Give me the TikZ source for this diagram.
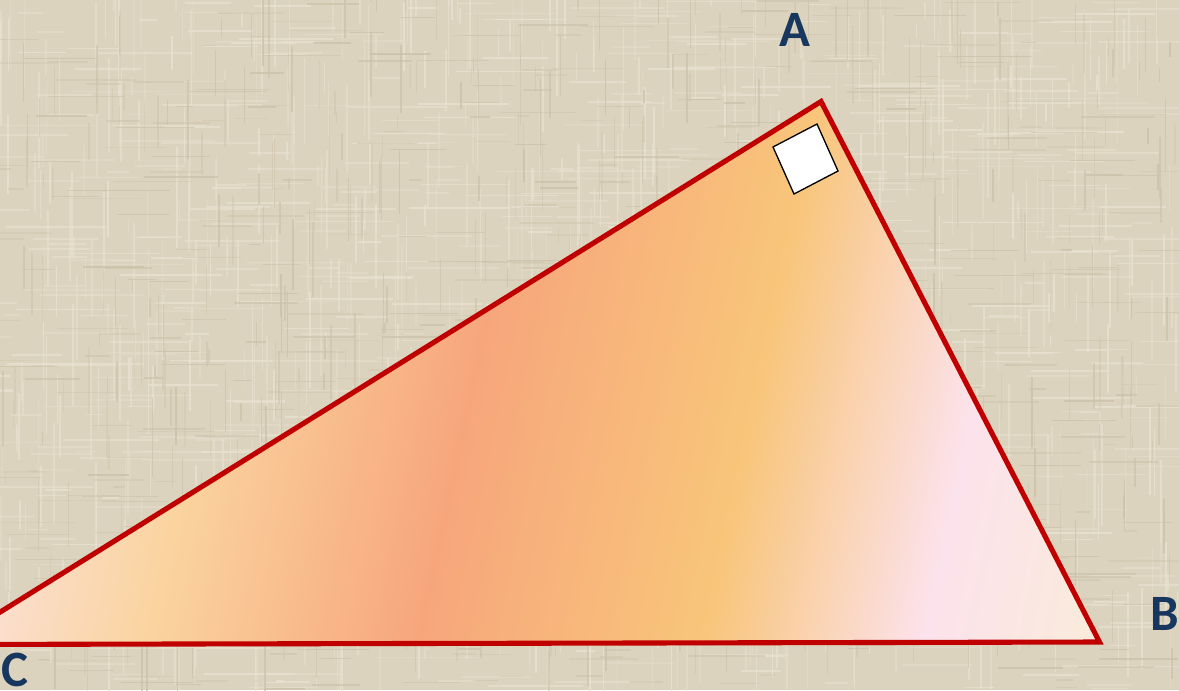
\documentclass[tikz,border=0pt]{standalone}
\usepackage{fontspec}
\newfontfamily\labelfont{Carlito}
\definecolor{bgbase}{HTML}{DCD3BE}
\definecolor{bglight}{HTML}{E9E2D1}
\definecolor{bgdark}{HTML}{CCC2AA}
\definecolor{edgered}{HTML}{C00000}
\definecolor{labelblue}{HTML}{17375E}
\definecolor{gpink}{HTML}{FCE3DF}
\definecolor{glorange}{HTML}{FAD39E}
\definecolor{gsalmon}{HTML}{F7A67C}
\definecolor{gyellow}{HTML}{F8C57A}
\definecolor{glav}{HTML}{FCE2EC}
\definecolor{gcream}{HTML}{FAEADC}
\pgfdeclarehorizontalshading{trishade}{100bp}{color(0bp)=(gpink); color(30bp)=(gpink); color(36.6bp)=(glorange); color(44.75bp)=(gsalmon); color(53.5bp)=(gyellow); color(60.2bp)=(glav); color(65bp)=(gcream); color(100bp)=(gcream)}
\tikzset{
  edge/.style={draw=edgered, line width=2.9pt, line join=miter},
  rightmark/.style={draw=black, fill=white, line width=0.75pt, line join=miter},
  vlabel/.style={text=labelblue, font=\labelfont\bfseries\fontsize{29}{30}\selectfont, inner sep=0pt},
  lightthread/.style={bglight, line width=0.9pt},
  darkthread/.style={bgdark, line width=0.8pt}
}
\begin{document}
\begin{tikzpicture}[x=0.02cm,y=-0.02cm]
\useasboundingbox (0,0) rectangle (1179,690);
\clip (0,0) rectangle (1179,690);
% background linen
\fill[bgbase] (0,0) rectangle (1179,690);
\pgfmathsetseed{7}
\foreach \i in {1,...,700}{
  \pgfmathsetmacro\yy{rnd*690}
  \pgfmathsetmacro\xx{rnd*1179-40}
  \pgfmathsetmacro\ll{15+rnd*90}
  \pgfmathsetmacro\op{0.3+0.5*rnd}
  \draw[lightthread, opacity=\op] (\xx,\yy) -- ++(\ll,0);
}
\foreach \i in {1,...,700}{
  \pgfmathsetmacro\xx{rnd*1179}
  \pgfmathsetmacro\yy{rnd*690-40}
  \pgfmathsetmacro\ll{15+rnd*90}
  \pgfmathsetmacro\op{0.3+0.5*rnd}
  \draw[lightthread, opacity=\op] (\xx,\yy) -- ++(0,\ll);
}
\foreach \i in {1,...,500}{
  \pgfmathsetmacro\yy{rnd*690}
  \pgfmathsetmacro\xx{rnd*1179-40}
  \pgfmathsetmacro\ll{10+rnd*70}
  \pgfmathsetmacro\op{0.3+0.5*rnd}
  \draw[darkthread, opacity=\op] (\xx,\yy) -- ++(\ll,0);
}
\foreach \i in {1,...,500}{
  \pgfmathsetmacro\xx{rnd*1179}
  \pgfmathsetmacro\yy{rnd*690-40}
  \pgfmathsetmacro\ll{10+rnd*70}
  \pgfmathsetmacro\op{0.3+0.5*rnd}
  \draw[darkthread, opacity=\op] (\xx,\yy) -- ++(0,\ll);
}
% vertices
\coordinate (A) at (821,101.5);
\coordinate (B) at (1099.5,642);
\coordinate (C) at (-52,644.5);
% gradient fill
\begin{scope}
  \clip (A) -- (B) -- (C) -- cycle;
  \begin{scope}[transform canvas={rotate around={-12:(600,590)}}]
    \shade[shading=trishade] (-200,-500) rectangle (1400,1400);
  \end{scope}
\end{scope}
\draw[edge] (A) -- (B) -- (C) -- cycle;
% right angle mark
\coordinate (r1) at (773,147);
\coordinate (r2) at (817,124);
\coordinate (r3) at (838,171);
\coordinate (r4) at (794,194);
\draw[rightmark] (r1) -- (r2) -- (r3) -- (r4) -- cycle;
% labels
\node[vlabel] (la) at (795,29.5) {A};
\node[vlabel, anchor=west] (lb) at (1150,614) {B};
\node[vlabel, anchor=west] (lc) at (1,670) {C};
\end{tikzpicture}
\end{document}
